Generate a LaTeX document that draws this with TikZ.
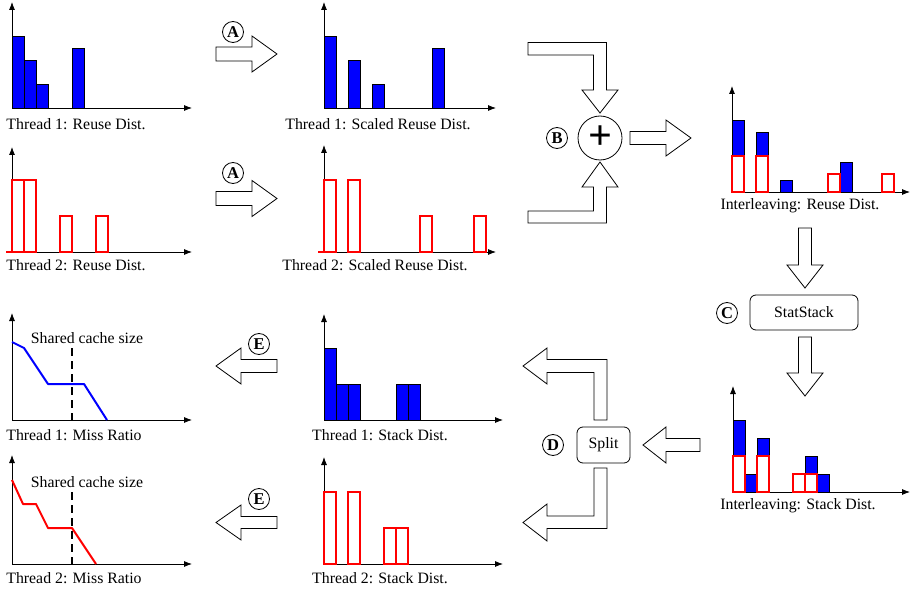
\documentclass[tikz,border=0pt]{standalone}
\usepackage{fontspec}
\setmainfont{Liberation Serif}
\usetikzlibrary{arrows.meta}
\begin{document}
\begin{tikzpicture}[x=1pt,y=-1pt,
  axis/.style={-{Latex[length=8pt,width=6pt]}, line width=0.8pt},
  bbar/.style={fill=blue, draw=black, line width=0.8pt},
  rbar/.style={fill=white, draw=red, line width=1.8pt},
  blk/.style={draw=black, fill=white, line width=0.8pt, line join=miter},
  lab/.style={anchor=base, inner sep=0pt, font=\fontsize{15.8}{18}\selectfont},
  circ/.style={circle, draw, line width=0.8pt, minimum size=21pt, inner sep=0pt, font=\fontsize{16.5}{18}\selectfont\bfseries},
  rbox/.style={draw, rounded corners=6pt, line width=0.8pt, inner sep=0pt, font=\fontsize{15.8}{18}\selectfont},
  curveB/.style={blue, line width=2pt, line join=round},
  curveR/.style={red, line width=2pt, line join=round},
  cache/.style={line width=1.6pt, dash pattern=on 8pt off 5pt}]
\useasboundingbox (0,0) rectangle (911,591);

% ---------- Panel: Thread 1 reuse
\draw[axis] (12,108) -- (12,2);
\draw[axis] (12,108) -- (192,108);
\draw[bbar] (12,108) rectangle (24,36);
\draw[bbar] (24,108) rectangle (36,60);
\draw[bbar] (36,108) rectangle (48,84);
\draw[bbar] (72,108) rectangle (84,48);
\node[lab] (l1) at (76,130) {Thread 1: Reuse Dist.};

% ---------- Panel: Thread 2 reuse
\draw[axis] (12,252) -- (12,147);
\draw[axis] (12,252) -- (192,252);
\draw[red, line width=1.8pt] (6,252) -- (12,252);
\draw[rbar] (12,252) rectangle (24,180);
\draw[rbar] (24,252) rectangle (36,180);
\draw[rbar] (60,252) rectangle (72,216);
\draw[rbar] (96,252) rectangle (108,216);
\node[lab] (l2) at (76,270) {Thread 2: Reuse Dist.};

% ---------- Panel: Thread 1 scaled
\draw[axis] (324,108) -- (324,2);
\draw[axis] (324,108) -- (496,108);
\draw[bbar] (324,108) rectangle (336,36);
\draw[bbar] (348,108) rectangle (360,60);
\draw[bbar] (372,108) rectangle (384,84);
\draw[bbar] (432,108) rectangle (444,48);
\node[lab] (l3) at (378,130) {Thread 1: Scaled Reuse Dist.};

% ---------- Panel: Thread 2 scaled
\draw[axis] (324,252) -- (324,145);
\draw[axis] (324,252) -- (496,252);
\draw[red, line width=1.8pt] (318,252) -- (324,252);
\draw[rbar] (324,252) rectangle (336,180);
\draw[rbar] (348,252) rectangle (360,180);
\draw[rbar] (420,252) rectangle (432,216);
\draw[rbar] (474,252) rectangle (486,216);
\node[lab] (l4) at (375,270) {Thread 2: Scaled Reuse Dist.};

% ---------- A arrows
\node[circ] (A1) at (233,32) {A};
\draw[blk] (216,47) -- (252,47) -- (252,36) -- (277,54) -- (252,72) -- (252,61) -- (216,61) -- cycle;
\node[circ] (A2) at (233,173) {A};
\draw[blk] (216,191.5) -- (252,191.5) -- (252,180.5) -- (277,198.5) -- (252,216.5) -- (252,205.5) -- (216,205.5) -- cycle;

% ---------- B merge
\draw[blk] (528,42.5) -- (606.5,42.5) -- (606.5,90) -- (618,90) -- (600,113) -- (582,90) -- (593.5,90) -- (593.5,55) -- (528,55) -- cycle;
\draw[blk] (528,223) -- (606.5,223) -- (606.5,187) -- (618,187) -- (600,162) -- (582,187) -- (593.5,187) -- (593.5,211) -- (528,211) -- cycle;
\node[circle, draw, line width=0.8pt, minimum size=44pt, inner sep=0pt] (plus) at (600,138) {};
\node[inner sep=0pt, font=\fontsize{42}{42}\selectfont\bfseries] (plussign) at (600,138) {+};
\node[circ] (B) at (557,138) {B};
\draw[blk] (630,131.5) -- (666,131.5) -- (666,120) -- (691,138) -- (666,156) -- (666,144.5) -- (630,144.5) -- cycle;

% ---------- Interleaving reuse
\draw[axis] (732,192) -- (732,86);
\draw[axis] (732,192) -- (910,192);
\draw[bbar] (732,192) rectangle (744,120);
\draw[bbar] (756,192) rectangle (768,132);
\draw[bbar] (780,192) rectangle (792,180);
\draw[bbar] (840,192) rectangle (852,162);
\draw[rbar] (732,192) rectangle (744,156);
\draw[rbar] (756,192) rectangle (768,156);
\draw[rbar] (828,192) rectangle (840,174);
\draw[rbar] (882,192) rectangle (894,174);
\node[lab] (l5) at (800,210) {Interleaving: Reuse Dist.};

% ---------- C StatStack
\draw[blk] (798.5,228) -- (811.5,228) -- (811.5,265) -- (823,265) -- (805,288) -- (787,265) -- (798.5,265) -- cycle;
\node[rbox, minimum width=108pt, minimum height=35pt] (stat) at (804,312.5) {StatStack};
\node[circ] (C) at (727,313) {C};
\draw[blk] (798.5,337) -- (811.5,337) -- (811.5,373) -- (823,373) -- (805,396) -- (787,373) -- (798.5,373) -- cycle;

% ---------- Interleaving stack
\draw[axis] (733,492) -- (733,386);
\draw[axis] (733,492) -- (910,492);
\draw[bbar] (733,492) rectangle (745,420);
\draw[bbar] (745,492) rectangle (757,474);
\draw[bbar] (757,492) rectangle (769,438);
\draw[bbar] (805,492) rectangle (817,456);
\draw[bbar] (817,492) rectangle (829,474);
\draw[rbar] (733,492) rectangle (745,456);
\draw[rbar] (757,492) rectangle (769,456);
\draw[rbar] (793,492) rectangle (805,474);
\draw[rbar] (805,492) rectangle (817,474);
\node[lab] (l6) at (798,509) {Interleaving: Stack Dist.};

% ---------- D split
\draw[blk] (700,438.5) -- (666,438.5) -- (666,427) -- (643,445) -- (666,463) -- (666,451.5) -- (700,451.5) -- cycle;
\node[rbox, minimum width=53pt, minimum height=36pt] (split) at (603.5,445) {Split};
\node[circ] (D) at (553,445) {D};
\draw[blk] (594,420) -- (607,420) -- (607,359.5) -- (547,359.5) -- (547,348) -- (523,366) -- (547,384) -- (547,372.5) -- (594,372.5) -- cycle;
\draw[blk] (594,468) -- (607,468) -- (607,528.5) -- (547,528.5) -- (547,541) -- (523,522.5) -- (547,504) -- (547,516) -- (594,516) -- cycle;

% ---------- Thread 1 stack
\draw[axis] (324,420) -- (324,314);
\draw[axis] (324,420) -- (503,420);
\draw[bbar] (324,420) rectangle (336,348);
\draw[bbar] (336,420) rectangle (348,384);
\draw[bbar] (348,420) rectangle (360,384);
\draw[bbar] (396,420) rectangle (408,384);
\draw[bbar] (408,420) rectangle (420,384);
\node[lab] (l7) at (380,440) {Thread 1: Stack Dist.};

% ---------- Thread 2 stack
\draw[axis] (324,564) -- (324,457);
\draw[axis] (324,564) -- (503,564);
\draw[rbar] (324,564) rectangle (336,492);
\draw[rbar] (348,564) rectangle (360,492);
\draw[rbar] (384,564) rectangle (396,528);
\draw[rbar] (396,564) rectangle (408,528);
\node[lab] (l8) at (380,583) {Thread 2: Stack Dist.};

% ---------- E arrows
\node[circ] (E1) at (259,344) {E};
\draw[blk] (277,359.5) -- (241,359.5) -- (241,348) -- (216,366) -- (241,384) -- (241,372.5) -- (277,372.5) -- cycle;
\node[circ] (E2) at (259,499) {E};
\draw[blk] (277,516.5) -- (241,516.5) -- (241,505) -- (216,522.5) -- (241,540) -- (241,528.5) -- (277,528.5) -- cycle;

% ---------- Thread 1 miss ratio
\draw[axis] (12,420) -- (12,313);
\draw[axis] (12,420) -- (192,420);
\draw[cache] (72,348) -- (72,420);
\draw[curveB] (12,342) -- (24,348) -- (48,384) -- (84,384) -- (107,420);
\node[lab] (s1) at (87,343) {Shared cache size};
\node[lab] (l9) at (74,440) {Thread 1: Miss Ratio};

% ---------- Thread 2 miss ratio
\draw[axis] (12,564) -- (12,455);
\draw[axis] (12,564) -- (192,564);
\draw[cache] (72,492) -- (72,564);
\draw[curveR] (12,480) -- (23,504) -- (36,504) -- (48,528) -- (72,528) -- (96,564);
\node[lab] (s2) at (87,487) {Shared cache size};
\node[lab] (l10) at (74,583) {Thread 2: Miss Ratio};
\end{tikzpicture}
\end{document}
